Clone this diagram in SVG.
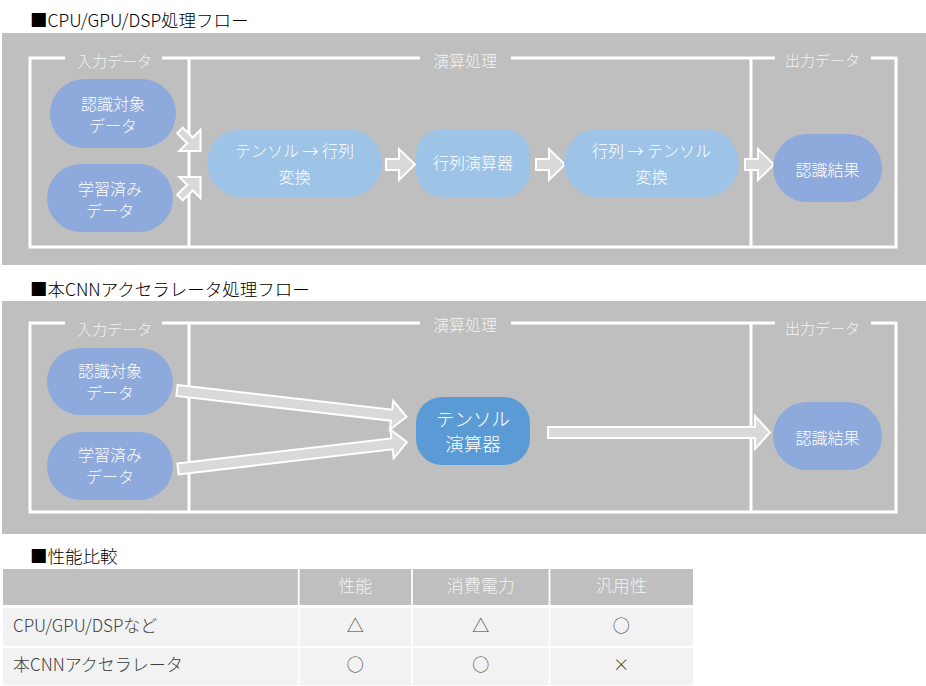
<svg xmlns="http://www.w3.org/2000/svg" width="926" height="686" viewBox="0 0 926 686">
<style>
text{font-family:"Noto Sans CJK JP","Noto Sans",sans-serif;font-weight:300}
.title{font-size:17.5px;fill:#000}
.panel{fill:#BFBFBF}
.frame{fill:none;stroke:#FFFFFF;stroke-width:3}
.lbl{font-size:15px;fill:#F2F2F2;text-anchor:middle}
.nt{font-size:16px;fill:#FFFFFF;text-anchor:middle}
.nt2{font-size:18.5px;fill:#FFFFFF;text-anchor:middle}
.c1{fill:#8EA9DB}
.c2{fill:#9DC3E6}
.c3{fill:#5B9BD5}
.arr{fill:#D9D9D9;stroke:#FFFFFF;stroke-width:2;stroke-linejoin:miter}
.th{font-size:17px;fill:#F2F2F2;text-anchor:middle}
.td{font-size:17px;fill:#404040}
.tc{font-size:17px;fill:#404040;text-anchor:middle}
</style>
<defs>
<path id="ah" d="M0,-5.5 H13 V-15.5 L29,0 L13,15.5 V5.5 H0 Z"/>
<path id="ad" d="M0,-4 H14 V-15 L29,0 L14,15 V4 H0 Z"/>
</defs>

<!-- Section 1 -->
<text class="title" x="30" y="27">■CPU/GPU/DSP処理フロー</text>
<rect class="panel" x="2" y="33" width="924" height="232"/>
<g id="frame1">
<path class="frame" d="M65,58 H30 V247 H896 V58 H871 M162,58 H420 M511,58 H775 M189,58 V247 M751,58 V247"/>
<text class="lbl" x="114.5" y="66.5">入力データ</text>
<text class="lbl" x="465" y="67" style="font-size:16px">演算処理</text>
<text class="lbl" x="822.5" y="65.5">出力データ</text>
</g>

<g id="connectors1">
<use href="#ad" class="arr" transform="translate(180,130.5) rotate(45)"/>
<use href="#ad" class="arr" transform="translate(180,197.5) rotate(-45)"/>
<use href="#ah" class="arr" transform="translate(386,164.5)"/>
<use href="#ah" class="arr" transform="translate(536,164.5)"/>
<use href="#ah" class="arr" transform="translate(745,164.5)"/>
</g>

<g id="n1">
<rect class="c1" x="50" y="79" width="126" height="69" rx="34.5"/>
<text class="nt" x="113" y="109.5"><tspan x="113">認識対象</tspan><tspan x="113" dy="22">データ</tspan></text>
</g>
<g id="n2">
<rect class="c1" x="47" y="164" width="126" height="68" rx="34"/>
<text class="nt" x="110" y="194.5"><tspan x="110">学習済み</tspan><tspan x="110" dy="22">データ</tspan></text>
</g>
<g id="n3">
<rect class="c2" x="207" y="129" width="175" height="68" rx="34"/>
<text class="nt" x="294.5" y="156.5"><tspan x="294.5">テンソル → 行列</tspan><tspan x="294.5" dy="26">変換</tspan></text>
</g>
<g id="n4">
<rect class="c2" x="416" y="129" width="114" height="68" rx="26"/>
<text class="nt" x="473" y="169">行列演算器</text>
</g>
<g id="n5">
<rect class="c2" x="564" y="129" width="175" height="68" rx="34"/>
<text class="nt" x="651.5" y="156.5"><tspan x="651.5">行列 → テンソル</tspan><tspan x="651.5" dy="26">変換</tspan></text>
</g>
<g id="n6">
<rect class="c1" x="773" y="134" width="109" height="68" rx="34"/>
<text class="nt" x="827.5" y="175.5">認識結果</text>
</g>

<!-- Section 2 -->
<text class="title" x="30" y="296">■本CNNアクセラレータ処理フロー</text>
<rect class="panel" x="2" y="301" width="924" height="233"/>
<g id="frame2">
<path class="frame" d="M65,323 H30 V512 H896 V323 H871 M162,323 H420 M511,323 H775 M189,323 V512 M751,323 V512"/>
<text class="lbl" x="114.5" y="334.5">入力データ</text>
<text class="lbl" x="465" y="330.5" style="font-size:16px">演算処理</text>
<text class="lbl" x="822.5" y="334">出力データ</text>
</g>

<g id="connectors2">
<path class="arr" transform="translate(177,390.5) rotate(6.57)" d="M0,-5.5 H216 V-14.5 L231,0 L216,14.5 V5.5 H0 Z"/>
<path class="arr" transform="translate(178,469) rotate(-6.7)" d="M0,-5.5 H215.5 V-14.5 L230.5,0 L215.5,14.5 V5.5 H0 Z"/>
<path class="arr" transform="translate(548,432.5)" d="M0,-5.5 H207 V-16.5 L222,0 L207,16.5 V5.5 H0 Z"/>
</g>

<g id="m1">
<rect class="c1" x="47" y="348" width="126" height="67" rx="33.5"/>
<text class="nt" x="110" y="377"><tspan x="110">認識対象</tspan><tspan x="110" dy="22">データ</tspan></text>
</g>
<g id="m2">
<rect class="c1" x="47" y="432" width="126" height="68" rx="34"/>
<text class="nt" x="110" y="461"><tspan x="110">学習済み</tspan><tspan x="110" dy="22">データ</tspan></text>
</g>
<g id="m3">
<rect class="c3" x="416" y="397" width="114" height="68" rx="26"/>
<text class="nt2" x="473" y="426"><tspan x="473">テンソル</tspan><tspan x="473" dy="25">演算器</tspan></text>
</g>
<g id="m4">
<rect class="c1" x="773" y="402" width="109" height="68" rx="34"/>
<text class="nt" x="827.5" y="444">認識結果</text>
</g>

<!-- Section 3: table -->
<text class="title" x="30" y="563">■性能比較</text>
<g id="table">
<rect x="3" y="569" width="690" height="36" fill="#BFBFBF"/>
<rect x="3" y="608" width="690" height="77" fill="#F2F2F2"/>
<path d="M3,647 H693 M298.7,569 V685 M412,569 V685 M549.5,569 V685" stroke="#FFFFFF" stroke-width="1.8" fill="none"/>
<text class="th" x="355.3" y="592">性能</text>
<text class="th" x="480.7" y="592">消費電力</text>
<text class="th" x="621.2" y="592">汎用性</text>
<text class="td" x="13" y="632">CPU/GPU/DSPなど</text>
<text class="tc" x="355.3" y="632">△</text>
<text class="tc" x="480.7" y="632">△</text>
<text class="tc" x="621.2" y="632">○</text>
<text class="td" x="13" y="670.5">本CNNアクセラレータ</text>
<text class="tc" x="355.3" y="670.5">○</text>
<text class="tc" x="480.7" y="670.5">○</text>
<text class="tc" x="621.2" y="670.5">×</text>
</g>
</svg>
